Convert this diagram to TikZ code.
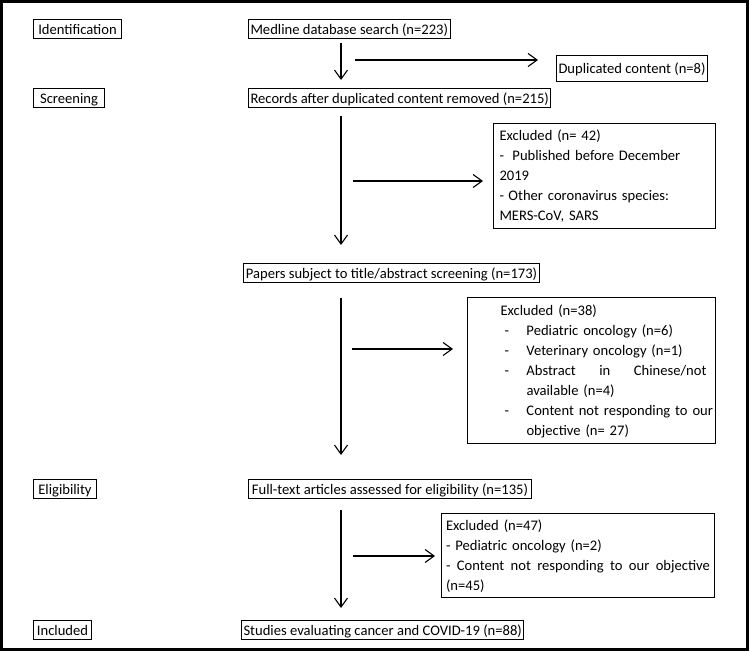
\documentclass[tikz,border=0pt]{standalone}
\usepackage{fontspec}
\setmainfont{Carlito}
\usetikzlibrary{arrows.meta}
\newcommand\tst{\rule[-5pt]{0pt}{20pt}}
\newcommand\dsh{\hspace*{34pt}\makebox[22pt][l]{-}}
\begin{document}
\begin{tikzpicture}[x=1pt,y=-1pt,
  every node/.style={font=\fontsize{14.6}{20}\selectfont},
  sbox/.style={draw, line width=1pt, anchor=north west, inner xsep=2pt, inner ysep=2.25pt,
    text height=12.5pt, text depth=2pt, minimum height=19pt},
  mbox/.style={draw, line width=1pt, anchor=north west, inner ysep=0pt, align=left},
  arr/.style={line width=1.1pt, -{Straight Barb[length=9pt,width=13pt]}}
]
\useasboundingbox (0,0) rectangle (750,652);
\draw[line width=3pt] (1.5,1.5) rectangle (747,649.5);

% stage labels
\node[sbox, minimum width=88pt] (id) at (33,19) {Identification};
\node[sbox, minimum width=71pt] (scr) at (33,88) {Screening};
\node[sbox, minimum width=63pt] (eli) at (33,479) {Eligibility};
\node[sbox, minimum width=58pt] (inc) at (33,620) {Included};

% main flow
\node[sbox, minimum width=200pt] (med) at (248,19) {Medline database search (n=223)};
\node[sbox, minimum width=151pt, minimum height=26pt] (dup) at (556,55) {Duplicated content (n=8)};
\node[sbox, minimum width=300pt] (rec) at (248,88) {Records after duplicated content removed (n=215)};
\node[mbox, inner xsep=6pt, text width=210pt, minimum width=222pt, minimum height=105pt] (ex1) at (493,123)
  {\tst Excluded (n= 42)\\
   \makebox[13pt][l]{-}Published before December\\
   2019\\
   \makebox[9pt][l]{-}Other coronavirus species:\\
   MERS-CoV, SARS\tst};
\node[sbox, minimum width=296pt] (pap) at (243,263) {Papers subject to title/abstract screening (n=173)};
\node[mbox, inner xsep=3pt, text width=242pt, minimum width=248pt, minimum height=146pt] (ex2) at (467,297)
  {\hspace*{30pt}\tst Excluded (n=38)\\
   \dsh Pediatric oncology (n=6)\\
   \dsh Veterinary oncology (n=1)\\
   \dsh\makebox[180pt][s]{Abstract \hfill in \hfill Chinese/not}\\
   \hspace*{56pt}available (n=4)\\
   \dsh\makebox[180pt][l]{Content not responding to our}\\
   \hspace*{56pt}objective (n= 27)\tst};
\node[sbox, minimum width=283pt] (ful) at (248,479) {Full-text articles assessed for eligibility (n=135)};
\node[mbox, inner xsep=4.5pt, text width=264pt, minimum width=273pt, minimum height=84pt] (ex3) at (441,513)
  {\tst Excluded (n=47)\\
   - Pediatric oncology (n=2)\\
   \makebox[264pt][s]{- \hfill Content \hfill not \hfill responding \hfill to \hfill our \hfill objective}\\
   (n=45)\tst};
\node[sbox, minimum width=280pt] (stu) at (241,620) {Studies evaluating cancer and COVID-19 (n=88)};

% connectors
\coordinate (vx) at (341,0);
\draw[arr] ([yshift=-4pt]med.south -| vx) -- ([yshift=8pt]rec.north -| vx);
\draw[arr] ([yshift=-8pt]rec.south -| vx) -- ([yshift=18pt]pap.north -| vx);
\draw[arr] ([yshift=-15pt]pap.south -| vx) -- ([yshift=24pt]ful.north -| vx);
\draw[arr] ([yshift=-11pt]ful.south -| vx) -- ([yshift=12pt]stu.north -| vx);

\coordinate (h1) at (355,60);
\coordinate (h2) at (353,181);
\coordinate (h3) at (352,349);
\coordinate (h4) at (353,556);
\draw[arr] (h1) -- ([xshift=-18pt]dup.west |- h1);
\draw[arr] (h2) -- ([xshift=-10pt]ex1.west |- h2);
\draw[arr] (h3) -- ([xshift=-14pt]ex2.west |- h3);
\draw[arr] (h4) -- ([xshift=-6pt]ex3.west |- h4);
\end{tikzpicture}
\end{document}
